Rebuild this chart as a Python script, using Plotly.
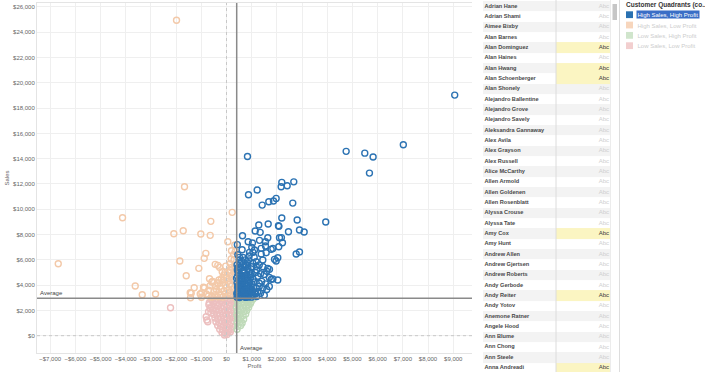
import plotly.graph_objects as go

FONT = "Arial, Liberation Sans, sans-serif"

# ---------------- data ----------------
quadrants = ["High Sales, High Profit", "High Sales, Low Profit",
             "Low Sales, High Profit", "Low Sales, Low Profit"]
swatch_colors = ["#2a71b1", "#f7d6bd", "#d0e5cc", "#f2cfcf"]
marker_colors = ["#2c73b3", "#f3c9a9", "#bfdab9", "#ecbfbf"]

avg_profit = 405
avg_sales = 2960

# (profit, sales)
high_high = [
    (9060, 19030), (7020, 15100), (4750, 14580), (5490, 14440), (5820, 14130), (5675, 12860),
    (833, 14180), (2195, 12130), (2170, 11780), (2409, 11860), (2671, 12170), (1218, 11520),
    (873, 11150), (1417, 10330), (1679, 10600), (1865, 10650), (1971, 10860), (2631, 10490),
    (2195, 9305), (3940, 8990), (2806, 9146), (1282, 8751), (1655, 8830), (2063, 8703),
    (2080, 8650), (1139, 8277), (1337, 8174), (2460, 8221), (2897, 8356), (3083, 8198),
    (635, 7905), (2103, 7747), (2180, 7760), (1639, 7747), (861, 7431), (1032, 7328),
    (1310, 7541), (1548, 7431), (2222, 7352), (1548, 7091), (1377, 6909), (1004, 6988),
    (2075, 7036), (1111, 6775), (1774, 6830), (1840, 6900), (1575, 6561), (2897, 6617),
    (2766, 6458), (913, 6593), (647, 6198), (516, 6198), (1377, 6458), (1441, 5984),
    (1905, 6040), (2036, 6166), (1971, 5905), (1178, 5850), (1044, 5723), (782, 5589),
    (516, 5723), (1639, 5328), (1706, 5249), (1774, 4458), (1838, 4482), (2036, 4403),
    (1242, 3478),
    (1450, 5450), (1300, 5600), (1200, 5200), (1350, 4900), (1500, 4850), (1250, 4700),
    (1600, 5100), (900, 6300), (750, 6000), (1100, 6200), (600, 5900), (1000, 5450),
    (850, 5300), (700, 5200), (1150, 5000), (950, 4800), (1400, 4300), (1550, 4100),
    (1700, 4600), (1300, 4150), (1450, 3800), (1600, 3650), (1350, 3350), (1150, 3300),
    (1500, 3200), (1700, 3900),
    (420, 3050), (480, 3120), (550, 3080), (620, 3200), (700, 3100), (780, 3180),
    (860, 3060), (950, 3150), (1050, 3250), (430, 3300), (510, 3380), (600, 3450),
    (690, 3330), (770, 3420), (850, 3500), (940, 3380), (1020, 3480), (1120, 3400),
    (1240, 3480), (450, 3600), (540, 3700), (630, 3620), (720, 3750), (810, 3660),
    (900, 3800), (990, 3700), (1080, 3850), (1180, 3760), (1300, 3900), (470, 3950),
    (560, 4050), (650, 3980), (740, 4120), (830, 4030), (920, 4200), (1010, 4100),
    (1100, 4250), (420, 4200), (500, 4350), (590, 4450), (680, 4300), (770, 4500),
    (860, 4400), (950, 4600), (1050, 4500), (440, 4700), (530, 4850), (620, 4750),
    (710, 4950), (800, 4850), (890, 5050), (980, 4950), (430, 5200), (560, 5400),
    (650, 5100), (780, 5450), (480, 3450), (580, 3550), (660, 3850), (750, 3300),
    (820, 3900), (880, 3250), (440, 3850), (520, 4150), (600, 3150), (700, 4600),
    (400, 4550), (460, 5000), (520, 3020), (760, 3030), (990, 3050), (410, 3350),
    (1200, 3100), (1000, 3600), (640, 4400), (900, 4300), (560, 4600), (760, 3600),
    (420, 5600), (500, 6000), (450, 6400), (620, 6800), (430, 7200), (560, 5700),
    (700, 5500), (840, 5750), (460, 5400), (1180, 5500), (880, 6000), (1050, 6600),
]

high_low = [
    (-1984, 24950), (-1667, 11780), (-4127, 9328), (226, 9755), (-623, 9043), (-2091, 8063),
    (-1718, 8300), (-1020, 8040), (-647, 7937), (52, 7431), (329, 7170), (198, 6720),
    (187, 6063), (-6679, 5692), (-1853, 5905), (-821, 6514), (-885, 6119), (-1099, 5328),
    (-1599, 4743), (-448, 5644), (-345, 5565), (-278, 5407), (-171, 5059), (119, 5194),
    (-675, 4506), (-583, 4245), (-345, 4190), (-3623, 3929), (-3345, 3241), (-2817, 3297),
    (-1282, 3794), (-1440, 3399), (-1429, 3004), (-980, 3399), (-992, 3036), (-873, 3794),
    (-1044, 3297), (-714, 3138), (-52, 5012), (-1401, 3352), (-913, 3826),
    (-550, 3100), (-450, 3250), (-350, 3080), (-250, 3200), (-150, 3050), (-50, 3300),
    (50, 3150), (150, 3250), (250, 3100), (330, 3350), (-500, 3500), (-400, 3650),
    (-300, 3450), (-200, 3700), (-100, 3550), (0, 3800), (100, 3600), (200, 3900),
    (300, 3700), (-450, 3950), (-350, 4100), (-250, 3900), (-150, 4200), (-50, 4000),
    (50, 4300), (150, 4100), (250, 4400), (350, 4000), (-200, 4500), (0, 4600),
    (200, 4700), (300, 4300), (-100, 4800), (100, 5000), (250, 5300), (330, 5600),
    (300, 6000), (150, 5700), (-30, 5500), (-700, 3600), (-800, 3300), (-650, 3950),
    (-550, 4300), (-600, 3050), (350, 3050), (120, 4500), (350, 4800), (-300, 4400),
    (320, 5100), (200, 5400), (280, 6400), (350, 6650), (-120, 4400), (80, 3400),
]

low_high = [
    (420, 2850), (550, 2780), (680, 2880), (810, 2800), (930, 2860), (450, 2550),
    (580, 2600), (710, 2500), (840, 2620), (950, 2550), (400, 2250), (530, 2300),
    (660, 2200), (790, 2330), (880, 2250), (430, 1950), (560, 2050), (690, 1900),
    (800, 2000), (410, 1650), (540, 1700), (660, 1600), (760, 1720), (440, 1350),
    (570, 1400), (680, 1300), (420, 1050), (540, 1100), (620, 1000), (450, 750),
    (560, 800), (420, 500), (980, 2700), (1050, 2900), (870, 2450),
]

low_low = [
    (-580, 2850), (-450, 2800), (-320, 2870), (-200, 2780), (-80, 2860), (40, 2800),
    (160, 2880), (280, 2820), (360, 2750), (-520, 2550), (-400, 2600), (-280, 2500),
    (-160, 2620), (-40, 2520), (80, 2600), (200, 2500), (320, 2580), (-600, 2300),
    (-470, 2250), (-350, 2350), (-230, 2200), (-110, 2300), (10, 2250), (130, 2330),
    (250, 2200), (350, 2300), (-550, 2000), (-420, 1950), (-300, 2050), (-180, 1900),
    (-60, 2000), (60, 1950), (180, 2050), (300, 1900), (-500, 1700), (-380, 1650),
    (-260, 1750), (-140, 1600), (-20, 1700), (100, 1650), (220, 1750), (320, 1600),
    (-460, 1400), (-340, 1350), (-220, 1450), (-100, 1300), (20, 1400), (140, 1350),
    (260, 1450), (-420, 1100), (-300, 1050), (-180, 1150), (-60, 1000), (60, 1100),
    (180, 1050), (280, 1150), (-350, 800), (-230, 750), (-110, 850), (10, 700),
    (130, 800), (230, 750), (-270, 500), (-150, 450), (-30, 550), (90, 450),
    (200, 500), (-180, 250), (-60, 200), (60, 250), (150, 300), (-80, 50), (20, 100),
    (-2222, 2213), (-714, 1897), (-806, 1502), (-782, 1241), (-742, 1107),
    (-680, 2600), (-650, 2150), (-620, 1800), (-700, 2450),
]

customers = [
    "Adrian Hane", "Adrian Shami", "Aimee Bixby", "Alan Barnes", "Alan Dominguez",
    "Alan Haines", "Alan Hwang", "Alan Schoenberger", "Alan Shonely", "Alejandro Ballentine",
    "Alejandro Grove", "Alejandro Savely", "Aleksandra Gannaway", "Alex Avila", "Alex Grayson",
    "Alex Russell", "Alice McCarthy", "Allen Armold", "Allen Goldenen", "Allen Rosenblatt",
    "Alyssa Crouse", "Alyssa Tate", "Amy Cox", "Amy Hunt", "Andrew Allen", "Andrew Gjertsen",
    "Andrew Roberts", "Andy Gerbode", "Andy Reiter", "Andy Yotov", "Anemone Ratner",
    "Angele Hood", "Ann Blume", "Ann Chong", "Ann Steele", "Anna Andreadi",
]
highlighted = ["Alan Dominguez", "Alan Hwang", "Alan Schoenberger", "Amy Cox",
               "Andy Reiter", "Anna Andreadi"]
marker_label = "Abc"

# ---------------- figure ----------------
fig = go.Figure()

series = [(low_low, 3), (low_high, 2), (high_low, 1), (high_high, 0)]
for pts, qi in series:
    fig.add_trace(go.Scatter(
        x=[p for p, s in pts], y=[s for p, s in pts], mode="markers",
        name=quadrants[qi], hoverinfo="skip",
        marker=dict(symbol="circle-open", size=6, color=marker_colors[qi],
                    line=dict(width=1.4, color=marker_colors[qi])),
        xaxis="x", yaxis="y"))

# table as a heatmap of cell backgrounds + text traces
n = len(customers)
rows = list(range(n))
z = []
for i, name in enumerate(customers):
    base = 0 if i % 2 == 0 else 1
    z.append([base, 2 if name in highlighted else base])
fig.add_trace(go.Heatmap(
    z=z, x=[0, 73, 127], y=rows, xaxis="x2", yaxis="y2",
    colorscale=[[0, "#f3f3f3"], [0.5, "#ffffff"], [1, "#fbf5c2"]],
    zmin=0, zmax=2, showscale=False, hoverinfo="skip", xgap=0, ygap=0))
fig.add_trace(go.Scatter(
    x=[1.5] * n, y=rows, text=customers, mode="text", textposition="middle right",
    textfont=dict(family=FONT, size=5.6, color="#484848", weight="bold"), hoverinfo="skip",
    xaxis="x2", yaxis="y2"))
fig.add_trace(go.Scatter(
    x=[126] * n, y=rows, text=[marker_label] * n, mode="text", textposition="middle left",
    textfont=dict(family=FONT, size=6,
                  color=["#3a3a3a" if c in highlighted else "#cfcfcf" for c in customers]),
    hoverinfo="skip", xaxis="x2", yaxis="y2"))

W, H = 705, 372
px = lambda v: v / W
py = lambda v: 1 - v / H

shapes = [
    # zero reference lines (dotted)
    dict(type="line", xref="x", yref="y domain", x0=0, x1=0, y0=0, y1=1,
         line=dict(color="#c8c8c8", width=1, dash="dot")),
    dict(type="line", xref="x domain", yref="y", x0=0, x1=1, y0=0, y1=0,
         line=dict(color="#c8c8c8", width=1, dash="dot")),
    # average lines
    dict(type="line", xref="x", yref="y domain", x0=avg_profit, x1=avg_profit, y0=0, y1=1,
         line=dict(color="#8a8a8a", width=1.5)),
    dict(type="line", xref="x domain", yref="y", x0=0, x1=1, y0=avg_sales, y1=avg_sales,
         line=dict(color="#8a8a8a", width=1.5)),
    # table column separator and panel borders
    dict(type="line", xref="x2", yref="paper", x0=73, x1=73, y0=0, y1=1,
         line=dict(color="#dcdcdc", width=1)),
    dict(type="line", xref="paper", yref="paper", x0=px(610.5), x1=px(610.5), y0=0, y1=1,
         line=dict(color="#ececec", width=1)),
    dict(type="rect", xref="paper", yref="paper", x0=px(612.5), x1=px(617), y0=py(20), y1=py(4),
         fillcolor="#c6c6c6", line=dict(width=0)),
    dict(type="line", xref="paper", yref="paper", x0=px(619.5), x1=px(619.5), y0=0, y1=1,
         line=dict(color="#dddddd", width=1)),
]

annotations = [
    dict(text="Average", xref="x domain", yref="y", x=0.003, y=avg_sales, xanchor="left",
         yanchor="bottom", showarrow=False, font=dict(family=FONT, size=6, color="#444")),
    dict(text="Average", xref="x", yref="y domain", x=avg_profit, y=0.0, xanchor="left",
         yanchor="bottom", xshift=1, showarrow=False, font=dict(family=FONT, size=6, color="#444")),
    dict(text="<b>Customer Quadrants (co..</b>", xref="paper", yref="paper", x=px(623.5), y=py(5.5),
         xanchor="left", yanchor="middle", showarrow=False,
         font=dict(family=FONT, size=6.5, color="#333")),
]

for i, q in enumerate(quadrants):
    cy = 14.7 + i * 10.33
    shapes.append(dict(type="rect", xref="paper", yref="paper", x0=px(626), x1=px(633),
                       y0=py(cy + 3.4), y1=py(cy - 3.4), fillcolor=swatch_colors[i],
                       line=dict(width=0)))
    sel = (i == 0)
    annotations.append(dict(
        text=q, xref="paper", yref="paper", x=px(635.5), y=py(cy), xanchor="left",
        yanchor="middle", showarrow=False, borderpad=0.5,
        bgcolor="#3a6ec6" if sel else "rgba(0,0,0,0)",
        font=dict(family=FONT, size=6, color="#ffffff" if sel else "#cdcdcd")))

fig.update_layout(
    width=W, height=H, margin=dict(l=0, r=0, t=0, b=0),
    paper_bgcolor="white", plot_bgcolor="white", showlegend=False,
    font=dict(family=FONT, size=6, color="#666"),
    xaxis=dict(domain=[px(37), px(472)], range=[-7523, 9746], dtick=1000, tick0=0,
               tickformat="$,.0f", showgrid=True, gridcolor="#efefef", gridwidth=1,
               zeroline=False, showline=True, linecolor="#e4e4e4", mirror=True, ticks="",
               tickfont=dict(size=6, color="#666"), automargin=False,
               title=dict(text="Profit", font=dict(size=6, color="#666"), standoff=2)),
    yaxis=dict(domain=[py(353), py(3)], range=[-1369, 26316], dtick=2000, tick0=0,
               tickformat="$,.0f", showgrid=True, gridcolor="#efefef", gridwidth=1,
               zeroline=False, showline=True, linecolor="#e4e4e4", ticks="",
               tickfont=dict(size=6, color="#666"), automargin=False,
               title=dict(text="Sales", font=dict(size=6, color="#666"), standoff=2)),
    xaxis2=dict(domain=[px(483), px(610)], range=[0, 127], visible=False, fixedrange=True),
    yaxis2=dict(domain=[0, 1], range=[35.41, -0.6], visible=False, fixedrange=True),
    shapes=shapes, annotations=annotations,
)

fig.write_html("out.html", config={"displayModeBar": False},
               post_script="document.body.style.margin='0px';document.body.style.overflow='hidden';")
